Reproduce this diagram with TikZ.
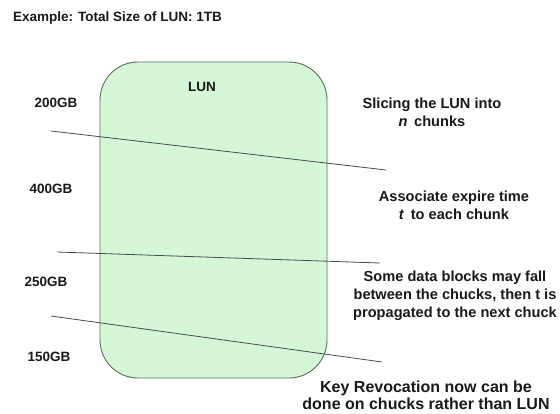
\documentclass[tikz,border=0pt]{standalone}
\usepackage{fontspec}
\setmainfont{Liberation Sans}
\definecolor{lunfill}{RGB}{214,247,214}
\definecolor{lunedge}{RGB}{90,110,95}
\definecolor{cutline}{RGB}{70,75,80}
\definecolor{txt}{RGB}{25,25,25}
\begin{document}
\begin{tikzpicture}[x=1pt,y=-1pt,
  lbl/.style={font=\bfseries\fontsize{13.5}{17.5}\selectfont, text=txt, inner sep=0pt, align=center},
  note/.style={lbl, font=\bfseries\fontsize{14.6}{18}\selectfont},
  bignote/.style={lbl, font=\bfseries\fontsize{16}{17.5}\selectfont},
  cut/.style={draw=cutline, line width=0.8pt}]
\useasboundingbox (0,0) rectangle (560,413);
% the LUN volume
\node[draw=lunedge, fill=lunfill, line width=0.9pt, rounded corners=38pt,
  minimum width=227pt, minimum height=316pt, inner sep=0pt] (lun) at (213.5,220) {};
\node[lbl] (lunname) at (202,87) {LUN};
\node[lbl, anchor=west] (title) at (13,18) {Example: Total Size of LUN: 1TB};
% chunk sizes
\node[lbl] (c1) at (56,103) {200GB};
\node[lbl] (c2) at (51,189) {400GB};
\node[lbl] (c3) at (46,282) {250GB};
\node[lbl] (c4) at (49,357) {150GB};
% chunk boundaries
\coordinate (a1) at (51,131);  \coordinate (b1) at (386,170);
\coordinate (a2) at (57,252);  \coordinate (b2) at (380,263);
\coordinate (a3) at (51,316);  \coordinate (b3) at (382,362);
\draw[cut] (a1) -- (b1);
\draw[cut] (a2) -- (b2);
\draw[cut] (a3) -- (b3);
% notes
\node[note] (n1) at (432,112.5) {Slicing the LUN into\\\textit{n}\, chunks};
\node[note] (n2) at (454,205) {Associate expire time\\\textit{t}\, to each chunk};
\node[note] (n3) at (455,295.5) {Some data blocks may fall\\between the chucks, then t is\\propagated to the next chuck};
\node[bignote] (n4) at (426,395.5) {Key Revocation now can be\\done on chucks rather than LUN};
\end{tikzpicture}
\end{document}
